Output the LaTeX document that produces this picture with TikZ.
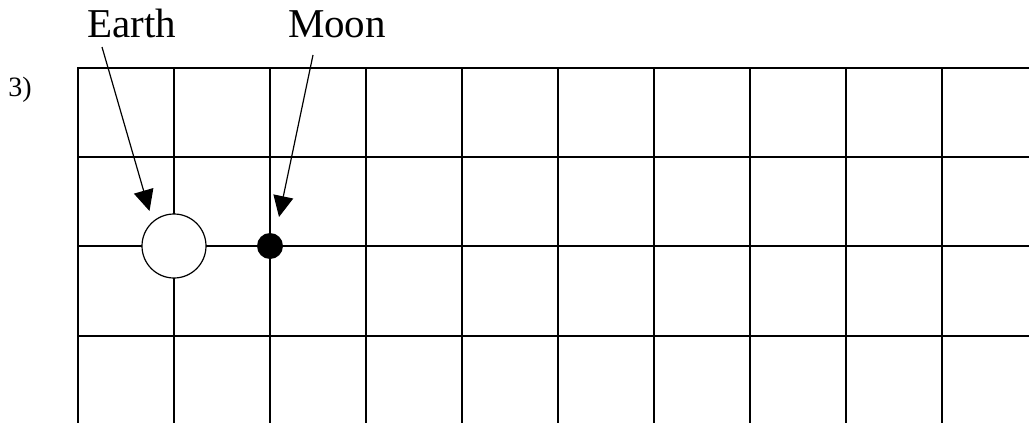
\documentclass[tikz,border=0pt]{standalone}
\usepackage{fontspec}
\setmainfont{Liberation Serif}
\usetikzlibrary{arrows.meta}
\begin{document}
\begin{tikzpicture}[x=1pt,y=-1pt,
  gridline/.style={line width=1.5pt, line cap=butt},
  pointer/.style={line width=1.2pt, -{Triangle[length=21pt,width=20pt]}},
  biglabel/.style={inner sep=0pt, anchor=base, font=\fontsize{41}{48}\selectfont},
  numlabel/.style={inner sep=0pt, anchor=base, font=\fontsize{28}{32}\selectfont}]
\useasboundingbox (0,0) rectangle (1029,423);
% grid
\foreach \x in {78,174,270,366,462,558,654,750,846,942}
  \draw[gridline] (\x,67.25) -- (\x,423);
\foreach \y in {68,157,246,336}
  \draw[gridline] (77.25,\y) -- (1029,\y);
% bodies
\node[circle, draw, line width=1.2pt, fill=white, minimum size=64pt, inner sep=0pt] (earth) at (174,246) {};
\node[circle, fill=black, minimum size=26pt, inner sep=0pt] (moon) at (270,246) {};
% labels
\node[biglabel] (earthlabel) at (132,37.7) {Earth};
\node[biglabel] (moonlabel) at (337,37.7) {Moon};
\node[numlabel] (num) at (20,96) {3)};
% pointers
\coordinate (es) at (102,47);
\coordinate (et) at (149.5,211);
\coordinate (ms) at (313,55);
\coordinate (mt) at (279,217);
\draw[pointer] (es) -- (et);
\draw[pointer] (ms) -- (mt);
\end{tikzpicture}
\end{document}
